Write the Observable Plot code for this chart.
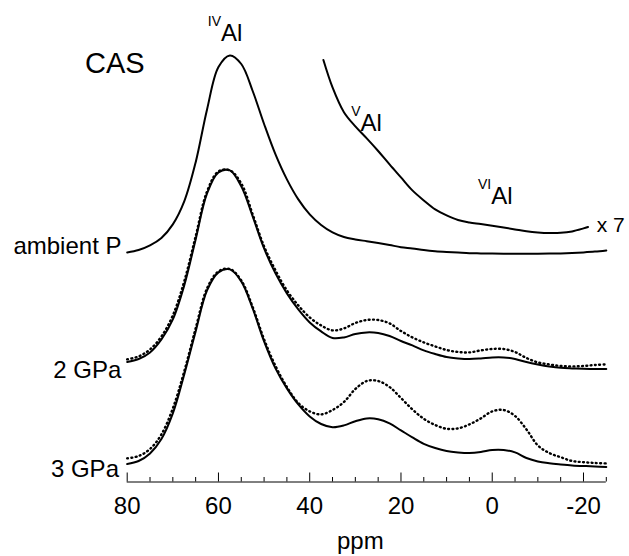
<!DOCTYPE html>
<html><head><meta charset="utf-8">
<script src="https://cdn.jsdelivr.net/npm/d3@7"></script>
<script src="https://cdn.jsdelivr.net/npm/@observablehq/plot@0.6"></script>
<style>body{margin:0;background:#fff;} svg{display:block;}</style>
</head><body><div id="chart"></div>
<script>
// chemical shift grid (ppm)
const ppm = [80, 77.5, 75, 72.5, 70, 67.5, 65, 62.5, 60, 57.5, 55, 52.5, 50, 47.5, 45, 42.5, 40, 37.5, 35, 32.5, 30, 27.5, 25, 22.5, 20, 17.5, 15, 12.5, 10, 7.5, 5, 2.5, 0, -2.5, -5, -7.5, -10, -12.5, -15, -17.5, -20, -22.5, -25];

// intensities (arbitrary units, peak ~100)
const ambient = [0.8, 2.0, 4.3, 8.0, 14.8, 26.3, 45.8, 72.3, 93.5, 99.3, 95.0, 81.5, 65.0, 49.8, 37.3, 27.3, 19.8, 14.5, 10.8, 8.5, 7.3, 6.4, 5.5, 4.5, 3.4, 2.8, 2.0, 1.4, 1.0, 0.7, 0.4, 0.3, 0.2, 0.1, 0.1, 0.1, 0.1, 0.2, 0.3, 0.5, 0.8, 1.2, 1.8];
const gpa2Solid = [4.0, 5.5, 8.8, 15.3, 25.3, 42.3, 65.3, 88.3, 98.8, 99.8, 91.8, 76.8, 60.8, 48.3, 38.3, 30.3, 23.8, 19.3, 16.0, 16.3, 18.0, 18.8, 18.5, 17.0, 14.5, 12.3, 9.8, 8.0, 6.5, 5.8, 5.5, 5.8, 6.3, 6.3, 5.5, 4.0, 2.8, 1.8, 1.1, 0.8, 0.6, 0.5, 0.5];
const gpa2Dot = [5.3, 6.8, 10.3, 16.8, 27.3, 44.3, 66.8, 89.3, 99.3, 99.8, 93.3, 77.8, 61.8, 49.8, 39.8, 32.3, 26.3, 22.3, 19.8, 20.8, 23.5, 25.0, 25.0, 23.3, 19.5, 16.3, 13.8, 11.8, 10.0, 9.0, 8.8, 9.8, 10.5, 10.5, 9.0, 6.0, 3.8, 2.8, 2.0, 1.8, 2.0, 2.5, 2.8];
const gpa3Solid = [2.0, 3.5, 7.3, 14.5, 27.3, 46.8, 68.3, 88.8, 97.8, 99.3, 93.3, 79.8, 63.3, 49.8, 39.8, 31.8, 25.8, 22.0, 20.4, 21.3, 23.4, 24.8, 24.4, 22.3, 18.8, 15.3, 12.1, 10.0, 8.5, 7.8, 7.5, 8.0, 9.0, 9.0, 7.8, 5.0, 3.3, 2.4, 1.8, 1.3, 1.0, 0.8, 0.5];
const gpa3Dot = [4.8, 6.0, 9.5, 16.8, 29.8, 48.3, 69.8, 89.8, 98.3, 99.5, 93.8, 80.5, 64.3, 51.0, 40.5, 32.5, 28.3, 26.8, 29.0, 33.0, 39.5, 43.5, 43.5, 40.5, 35.0, 29.3, 24.6, 21.5, 19.6, 19.8, 21.8, 24.8, 28.3, 29.0, 26.0, 19.3, 11.3, 7.5, 5.4, 3.5, 2.9, 2.5, 2.3];

// ambient P magnified x7 (partial range)
const x7Ppm = [37, 35, 32.5, 30, 27.5, 25, 22.5, 20, 17.5, 15, 12.5, 10, 7.5, 5, 2.5, 0, -2.5, -5, -7.5, -10, -12.5, -15, -17.5, -20, -21];
const x7Vals = [87.0, 73.3, 60.9, 53.8, 47.8, 41.5, 34.8, 28.3, 21.8, 16.8, 12.3, 9.3, 7.0, 5.8, 5.0, 4.1, 3.2, 2.3, 1.4, 0.8, 0.5, 0.6, 1.3, 2.8, 3.5];

// vertical stacking offsets
const offAmbient = 114, offX7 = 124, offGpa2 = 56, offGpa3 = 7;

// axis ticks
const majorTicks = [80, 60, 40, 20, 0, -20];
const minorTicks = [75, 70, 65, 55, 50, 45, 35, 30, 25, 15, 10, 5, -5, -10, -15, -25];

// labels
const sampleLabels = ["ambient P", "2 GPa", "3 GPa"];
const sampleLabelPpm = [81.25, 81.3, 81.8];
const sampleLabelY = [114.25, 52.1, 2.4];
const siteSup = ["IV", "V", "VI"];
const sitePpm = [59.44, 28.85, 0.22];
const siteY = [220.75, 175.4, 139.1];
const supRaise = 7.5;

const mk = (xs, vs, off) => xs.map((p, i) => ({ppm: p, v: vs[i] + off}));
const idx = a => a.map((_, i) => i);
const font = "'Liberation Sans', Arial, Helvetica, sans-serif";
const solid = {x: "ppm", y: "v", curve: "catmull-rom", stroke: "black", strokeWidth: 2};
const dotted = {x: "ppm", y: "v", curve: "catmull-rom", stroke: "black", strokeWidth: 2.4, strokeDasharray: "0.9,3.4"};

const plot = Plot.plot({
  width: 629, height: 556,
  marginLeft: 126.7, marginRight: 23.2, marginTop: 0, marginBottom: 74.5,
  style: {fontFamily: font, background: "white", color: "black", overflow: "visible"},
  x: {domain: [80, -25], axis: null},
  y: {domain: [0, 240], range: [481.5, 1.5], axis: null},
  marks: [
    Plot.ruleY([0], {x1: 80, x2: -25, stroke: "black", strokeWidth: 1}),
    Plot.ruleX(majorTicks, {x: d => d, y1: 0, y2: 4.5, stroke: "black", strokeWidth: 1}),
    Plot.ruleX(minorTicks, {x: d => d, y1: 0, y2: 2.25, stroke: "black", strokeWidth: 1}),
    Plot.axisX(majorTicks, {tickSize: 0, tickPadding: 14.5, fontSize: 24, tickFormat: d => String(d), label: null}),
    Plot.text(["ppm"], {x: 28.9, y: 0, dy: 66.5, lineAnchor: "bottom", fontSize: 24}),

    Plot.line(mk(ppm, gpa3Dot, offGpa3), dotted),
    Plot.line(mk(ppm, gpa2Dot, offGpa2), dotted),
    Plot.line(mk(ppm, gpa3Solid, offGpa3), solid),
    Plot.line(mk(ppm, gpa2Solid, offGpa2), solid),
    Plot.line(mk(ppm, ambient, offAmbient), solid),
    Plot.line(mk(x7Ppm, x7Vals, offX7), solid),

    Plot.text(idx(sampleLabels), {x: i => sampleLabelPpm[i], y: i => sampleLabelY[i], text: i => sampleLabels[i], textAnchor: "end", lineAnchor: "bottom", fontSize: 24}),
    Plot.text(["CAS"], {x: 82.7, y: 204.75, textAnchor: "middle", lineAnchor: "bottom", fontSize: 29}),
    Plot.text(idx(siteSup), {x: i => sitePpm[i], y: i => siteY[i], text: () => "Al", textAnchor: "start", lineAnchor: "bottom", fontSize: 24}),
    Plot.text(idx(siteSup), {x: i => sitePpm[i], y: i => siteY[i] + supRaise, text: i => siteSup[i], textAnchor: "end", lineAnchor: "bottom", fontSize: 14}),
    Plot.text(["x 7"], {x: -22.9, y: 124.9, textAnchor: "start", lineAnchor: "bottom", fontSize: 21})
  ]
});
document.getElementById("chart").appendChild(plot);
</script>
</body></html>
